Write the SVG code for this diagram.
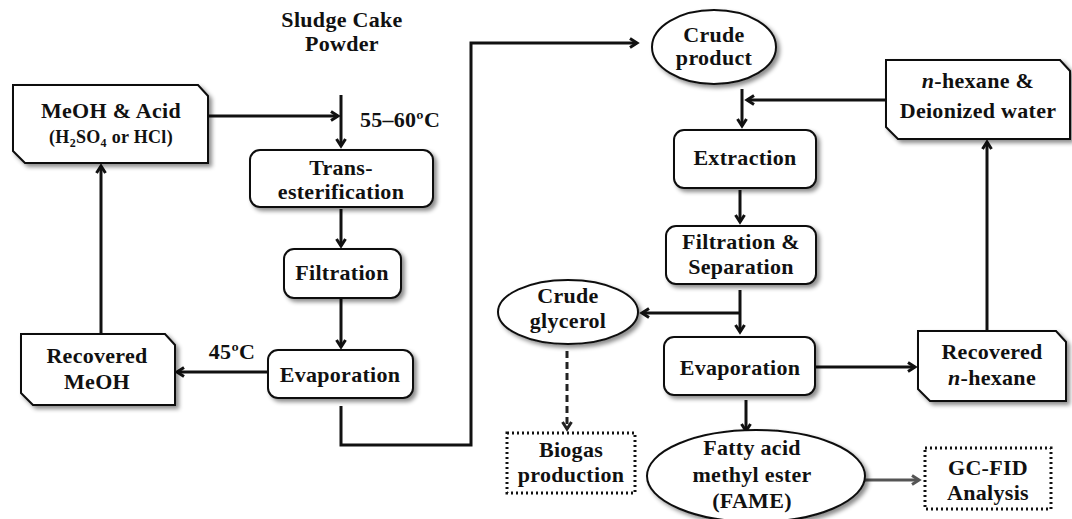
<svg xmlns="http://www.w3.org/2000/svg" width="1072" height="519" viewBox="0 0 1072 519">
<style>
text{font-family:"Liberation Serif","Times New Roman",serif;font-weight:bold;font-size:22px;fill:#111;text-anchor:middle;letter-spacing:0.3px}
.sm{font-size:18px}
.box{fill:#fff;stroke:#111;stroke-width:2;filter:url(#sh)}
.dot{fill:#fff;stroke:#111;stroke-width:3;stroke-dasharray:2 3}
.ln{fill:none;stroke:#111;stroke-width:3}
.gr{fill:none;stroke:#555;stroke-width:3}
.da{fill:none;stroke:#222;stroke-width:3;stroke-dasharray:7 4}
</style>
<defs>
<filter id="sh" x="-10%" y="-10%" width="130%" height="140%">
<feDropShadow dx="3" dy="3" stdDeviation="2" flood-color="#000" flood-opacity="0.45"/>
</filter>
<marker id="ar" markerWidth="12" markerHeight="12" refX="9" refY="6" orient="auto" markerUnits="userSpaceOnUse">
<path d="M2,1.5 L9,6 L2,10.5" fill="none" stroke="#111" stroke-width="3"/>
</marker>
<marker id="ag" markerWidth="12" markerHeight="12" refX="9" refY="6" orient="auto" markerUnits="userSpaceOnUse">
<path d="M2,1.5 L9,6 L2,10.5" fill="none" stroke="#555" stroke-width="3"/>
</marker>
<marker id="ad" markerWidth="12" markerHeight="12" refX="9" refY="6" orient="auto" markerUnits="userSpaceOnUse">
<path d="M2,1.5 L9,6 L2,10.5" fill="none" stroke="#222" stroke-width="3"/>
</marker>
</defs>

<g id="connectors">
<path class="ln" d="M208,116 H338" marker-end="url(#ar)"/>
<path class="ln" d="M341,95 V146" marker-end="url(#ar)"/>
<path class="ln" d="M341,209 V246" marker-end="url(#ar)"/>
<path class="ln" d="M341,299 V347" marker-end="url(#ar)"/>
<path class="ln" d="M268,372 H177" marker-end="url(#ar)"/>
<path class="ln" d="M101,334 V166" marker-end="url(#ar)"/>
<path class="ln" d="M341,406 V445 H471 V43 H637" marker-end="url(#ar)"/>
<path class="ln" d="M742,89 V126" marker-end="url(#ar)"/>
<path class="ln" d="M886,100 H747" marker-end="url(#ar)"/>
<path class="ln" d="M740,190 V222" marker-end="url(#ar)"/>
<path class="ln" d="M740,290 V332" marker-end="url(#ar)"/>
<path class="ln" d="M740,313 H642" marker-end="url(#ar)"/>
<path class="da" d="M567,351 V429" marker-end="url(#ad)"/>
<path class="ln" d="M746,400 V431" marker-end="url(#ar)"/>
<path class="ln" d="M815,367 H915" marker-end="url(#ar)"/>
<path class="ln" d="M987,331 V142" marker-end="url(#ar)"/>
<path class="gr" d="M864,480 H919" marker-end="url(#ag)"/>
</g>

<g id="sludge">
<text x="342" y="27">Sludge Cake</text>
<text x="342" y="51">Powder</text>
</g>
<g id="temp1"><text x="400" y="127">55–60ºC</text></g>
<g id="temp2"><text x="232" y="359">45ºC</text></g>

<g id="meoh-acid">
<path class="box" d="M13,85 H198 L208,96 V163 H25 L13,151 Z"/>
<text x="111" y="118">MeOH &amp; Acid</text>
<text x="111" y="143" class="sm">(H<tspan font-size="12" dy="4">2</tspan><tspan dy="-4">SO</tspan><tspan font-size="12" dy="4">4</tspan><tspan dy="-4"> or HCl)</tspan></text>
</g>

<g id="trans">
<rect class="box" x="250" y="150" width="183" height="57" rx="10"/>
<text x="341" y="175">Trans-</text>
<text x="341" y="199">esterification</text>
</g>

<g id="filtration">
<rect class="box" x="284" y="249" width="117" height="49" rx="10"/>
<text x="342" y="280">Filtration</text>
</g>

<g id="evap1">
<rect class="box" x="268" y="350" width="145" height="48" rx="10"/>
<text x="340" y="382">Evaporation</text>
</g>

<g id="rec-meoh">
<path class="box" d="M21,334 H165 L175,345 V405 H33 L21,393 Z"/>
<text x="97" y="363">Recovered</text>
<text x="97" y="389">MeOH</text>
</g>

<g id="crude-product">
<ellipse class="box" cx="714" cy="47" rx="62" ry="37"/>
<text x="714" y="42">Crude</text>
<text x="714" y="65">product</text>
</g>

<g id="hexane-water">
<path class="box" d="M886,60 H1060 L1070,71 V139 H898 L886,127 Z"/>
<text x="978" y="88"><tspan font-style="italic">n</tspan>-hexane &amp;</text>
<text x="978" y="118">Deionized water</text>
</g>

<g id="extraction">
<rect class="box" x="674" y="130" width="142" height="58" rx="10"/>
<text x="745" y="165">Extraction</text>
</g>

<g id="filt-sep">
<rect class="box" x="666" y="226" width="150" height="58" rx="10"/>
<text x="741" y="249">Filtration &amp;</text>
<text x="741" y="274">Separation</text>
</g>

<g id="crude-glycerol">
<ellipse class="box" cx="568" cy="312" rx="70" ry="32"/>
<text x="568" y="303">Crude</text>
<text x="568" y="328">glycerol</text>
</g>

<g id="biogas">
<rect class="dot" x="507" y="433" width="128" height="60"/>
<text x="571" y="457">Biogas</text>
<text x="571" y="482">production</text>
</g>

<g id="evap2">
<rect class="box" x="664" y="337" width="151" height="58" rx="10"/>
<text x="740" y="375">Evaporation</text>
</g>

<g id="rec-hexane">
<path class="box" d="M918,331 H1056 L1066,342 V401 H930 L918,389 Z"/>
<text x="992" y="359">Recovered</text>
<text x="992" y="385"><tspan font-style="italic">n</tspan>-hexane</text>
</g>

<g id="fame">
<ellipse class="box" cx="756" cy="476" rx="109" ry="46"/>
<text x="752" y="455">Fatty acid</text>
<text x="752" y="482">methyl ester</text>
<text x="752" y="508">(FAME)</text>
</g>

<g id="gcfid">
<rect class="dot" x="925" y="448" width="126" height="61"/>
<text x="988" y="475">GC-FID</text>
<text x="988" y="500">Analysis</text>
</g>
</svg>
